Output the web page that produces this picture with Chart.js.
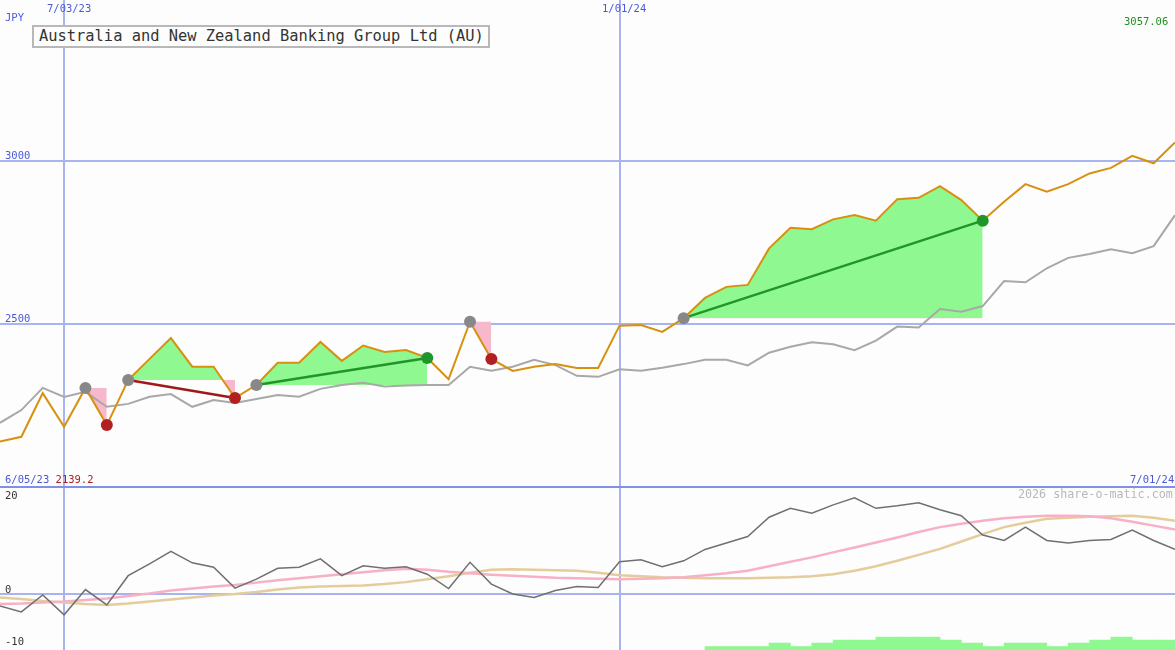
<!DOCTYPE html>
<html><head><meta charset="utf-8">
<script src="https://cdn.jsdelivr.net/npm/chart.js@4"></script>
<style>
body{margin:0;background:#fcfdfc;width:1175px;height:650px;overflow:hidden;font-family:"DejaVu Sans Mono",monospace;}
#top{position:absolute;left:0;top:0;width:1175px;height:487px;}
#bot{position:absolute;left:0;top:487px;width:1175px;height:163px;}
.l{position:absolute;font-size:10.5px;white-space:nowrap;line-height:11px;}
.b{color:#4a5ad8}
#sep{position:absolute;left:0;top:486px;width:1175px;height:2px;background:#8090e8;}
#title{position:absolute;left:32px;top:25px;width:449px;height:19px;border:2px solid #b8b8b8;background:#fcfdfc;font-size:15.4px;line-height:19px;color:#333;padding-left:5px;box-sizing:content-box;white-space:nowrap;overflow:visible}
</style></head><body>
<div id="top"><canvas id="c1"></canvas></div>
<div id="bot"><canvas id="c2"></canvas></div>
<div id="sep"></div>
<div id="title">Australia and New Zealand Banking Group Ltd (AU)</div>
<div class="l b" style="left:5px;top:12px">JPY</div>
<div class="l b" style="left:47px;top:3px">7/03/23</div>
<div class="l b" style="left:602px;top:3px">1/01/24</div>
<div class="l" style="left:1124px;top:16px;color:#209020">3057.06</div>
<div class="l b" style="left:5px;top:150px">3000</div>
<div class="l b" style="left:5px;top:313px">2500</div>
<div class="l b" style="left:5px;top:474px">6/05/23 <span style="color:#b02020">2139.2</span></div>
<div class="l b" style="left:1130px;top:474px">7/01/24</div>
<div class="l" style="left:5px;top:490px;color:#333">20</div>
<div class="l" style="left:5px;top:584px;color:#333">0</div>
<div class="l" style="left:5px;top:636px;color:#333">-10</div>
<div class="l" style="left:1018px;top:489px;color:#b8b8b8;font-size:11.7px">2026 share-o-matic.com</div>
<script>
const price=[2139.2,2154,2288,2185,2304,2190,2328,2393,2457,2369,2369,2273,2313,2381,2381,2445,2387,2434,2414,2420,2396,2331,2507,2393,2356,2369,2377,2365,2365,2495,2497,2476,2518,2580,2614,2620,2732,2795,2791,2821,2834,2817,2883,2887,2923,2880,2817,2875,2929,2906,2929,2962,2979,3016,2993,3057.06];
const avg=[2197,2236,2304,2276,2292,2246,2255,2277,2285,2246,2267,2258,2270,2282,2277,2301,2313,2320,2308,2311,2313,2313,2369,2357,2369,2390,2374,2341,2338,2361,2357,2366,2377,2390,2390,2373,2412,2430,2444,2438,2420,2449,2492,2489,2546,2538,2555,2632,2628,2671,2703,2715,2729,2717,2739,2834];
const trades=[[4,5],[6,11],[12,20],[22,23],[32,46]];
const osc=[-2.4,-3.6,-0.2,-4.2,0.9,-2.2,3.7,6.1,8.6,6.3,5.4,1.2,3.0,5.2,5.4,7.1,3.7,5.7,5.2,5.5,4.0,1.1,6.4,2.0,0,-0.7,0.7,1.5,1.3,6.5,6.9,5.5,6.7,9.0,10.3,11.6,15.5,17.3,16.3,18.0,19.4,17.3,17.8,18.4,17.0,15.8,11.9,10.8,13.5,10.8,10.3,10.8,11.0,12.9,10.8,9.0];
const sigPink=[-2.0,-1.9,-1.7,-1.5,-1.2,-0.9,-0.4,0.1,0.7,1.1,1.5,1.8,2.3,2.8,3.2,3.6,4.0,4.4,4.8,5.1,4.9,4.5,4.2,3.9,3.7,3.5,3.3,3.2,3.1,3.0,3.1,3.2,3.4,3.8,4.2,4.7,5.6,6.5,7.4,8.4,9.4,10.4,11.4,12.5,13.5,14.2,14.8,15.3,15.6,15.8,15.8,15.7,15.3,14.6,13.8,13.0];
const sigTan=[-0.7,-1.0,-1.4,-1.7,-2.0,-2.2,-1.9,-1.5,-1.1,-0.7,-0.3,0,0.4,0.9,1.3,1.5,1.6,1.7,2.0,2.4,3.0,3.6,4.3,4.9,5.0,4.9,4.8,4.7,4.3,3.8,3.6,3.4,3.3,3.2,3.2,3.2,3.3,3.4,3.6,4.0,4.7,5.6,6.7,7.9,9.1,10.6,12.1,13.5,14.4,15.2,15.4,15.6,15.7,15.8,15.4,14.8];
const hist=[null,null,null,null,null,null,null,null,null,null,null,null,null,null,null,null,null,null,null,null,null,null,null,null,null,null,null,null,null,null,null,null,null,-10.6,-10.6,-10.6,-9.9,-10.6,-9.9,-9.3,-9.3,-8.7,-8.7,-8.7,-9.3,-9.9,-10.6,-9.9,-9.9,-10.6,-9.9,-9.3,-8.7,-9.3,-9.3];
const dateIdx=[3,29];

const GREEN='#90f890',PINK='#f8b8cc',GRID='#a8b4f0';
const pts=a=>a.map((v,i)=>v==null?null:{x:i,y:v});
const ds=[];
ds.push({data:pts(price),borderColor:'#d89010',borderWidth:2,pointRadius:0,order:2,tension:0});
ds.push({data:pts(avg),borderColor:'#a8a8a8',borderWidth:2,pointRadius:0,order:3});
trades.forEach(([a,b])=>{
  const lvl=price[a];
  ds.push({data:price.slice(a,b+1).map((v,k)=>({x:a+k,y:v})),borderWidth:0,pointRadius:0,
    fill:{value:lvl,above:GREEN,below:PINK},order:5});
  const win=price[b]>lvl;
  if(b-a>1) ds.push({data:[{x:a,y:lvl},{x:b,y:price[b]}],borderColor:win?'#20962a':'#a01818',borderWidth:2.5,pointRadius:0,order:1});
  ds.push({data:[{x:a,y:lvl}],showLine:false,pointRadius:6,pointBackgroundColor:'#888',pointBorderWidth:0,order:0});
  ds.push({data:[{x:b,y:price[b]}],showLine:false,pointRadius:6,pointBackgroundColor:win?'#20962a':'#b02020',pointBorderWidth:0,order:0});
});
Chart.defaults.animation=false;
function xScale(){return {type:'linear',min:0,max:55,afterBuildTicks:s=>{s.ticks=dateIdx.map(v=>({value:v}))},
  grid:{color:GRID,lineWidth:2,drawTicks:false},ticks:{display:false},border:{display:false}};}
new Chart(document.getElementById('c1'),{type:'line',data:{datasets:ds},
 options:{responsive:true,maintainAspectRatio:false,layout:{padding:0,autoPadding:false},plugins:{legend:{display:false},tooltip:{enabled:false}},
  scales:{x:xScale(),y:{min:2000,max:3494,afterBuildTicks:s=>{s.ticks=[{value:2500},{value:3000}]},
   grid:{color:GRID,lineWidth:2,drawTicks:false},ticks:{display:false},border:{display:false}}}}});

new Chart(document.getElementById('c2'),{data:{labels:hist.map((_,i)=>i),datasets:[
  {type:'line',data:pts(osc),borderColor:'#707070',borderWidth:1.5,pointRadius:0,order:1},
  {type:'line',data:pts(sigPink),borderColor:'#f8b0c4',borderWidth:2.5,pointRadius:0,order:2},
  {type:'line',data:pts(sigTan),borderColor:'#e4cc9c',borderWidth:2.5,pointRadius:0,order:3},
  {type:'bar',xAxisID:'xb',grouped:false,data:hist.map(v=>v==null?null:[-12,v]),backgroundColor:GREEN,borderWidth:0,barPercentage:1,categoryPercentage:1,order:4}
 ]},
 options:{responsive:true,maintainAspectRatio:false,layout:{padding:0,autoPadding:false},plugins:{legend:{display:false},tooltip:{enabled:false}},
  scales:{x:xScale(),xb:{type:'category',offset:true,display:false},
   y:{min:-11.3,max:21.6,afterBuildTicks:s=>{s.ticks=[{value:0}]},grid:{color:GRID,lineWidth:2,drawTicks:false},ticks:{display:false},border:{display:false}}}}});
</script></body></html>
